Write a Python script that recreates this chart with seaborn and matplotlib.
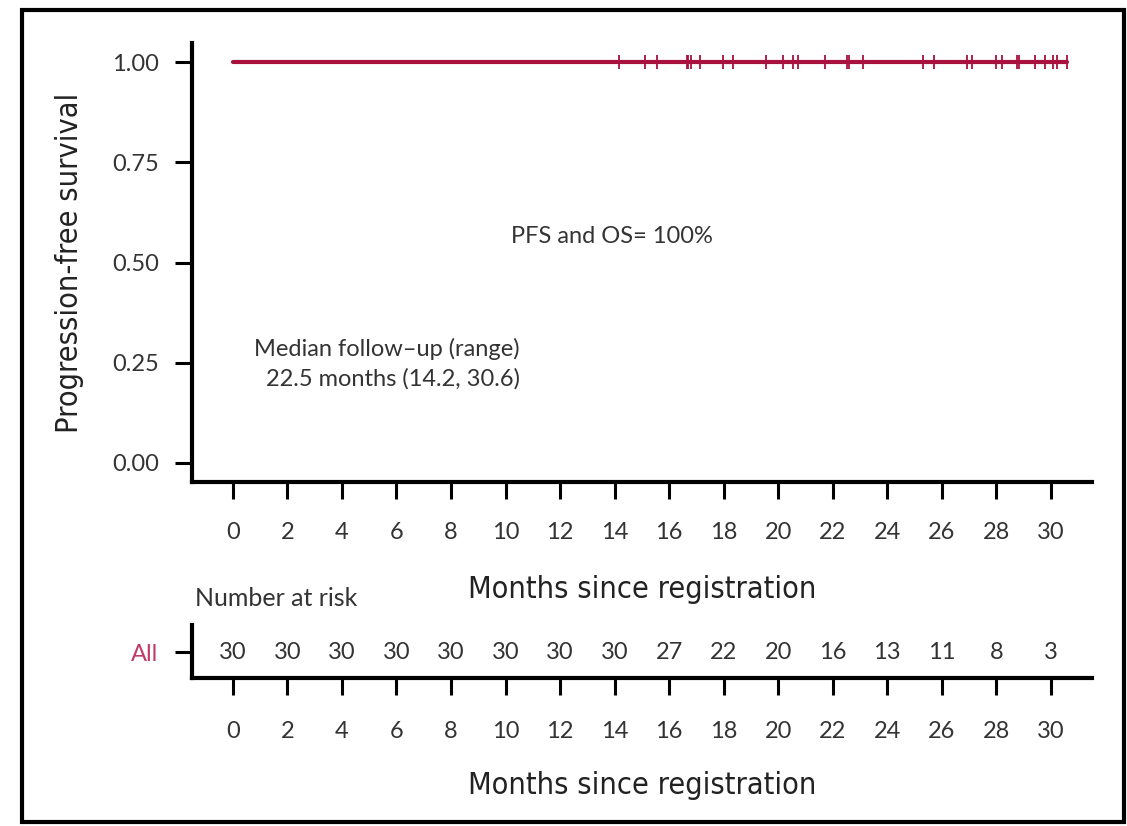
import matplotlib
matplotlib.use("Agg")
import matplotlib.pyplot as plt
from matplotlib.patches import Rectangle
import seaborn as sns
import pandas as pd

# ---- data ----
curve_time = [0.0, 30.6]
curve_surv = [1.0, 1.0]
censor_times = [14.17, 15.13, 15.56, 16.64, 16.70, 16.80, 17.13, 17.96, 18.33, 19.54,
                20.16, 20.55, 20.73, 21.70, 22.53, 22.58, 23.10, 25.30, 25.71, 26.91,
                27.10, 27.98, 28.20, 28.75, 28.82, 29.42, 29.79, 30.09, 30.24, 30.58]
risk_times = [0, 2, 4, 6, 8, 10, 12, 14, 16, 18, 20, 22, 24, 26, 28, 30]
risk_counts = [30, 30, 30, 30, 30, 30, 30, 30, 27, 22, 20, 16, 13, 11, 8, 3]
y_ticks = [0.0, 0.25, 0.5, 0.75, 1.0]
y_ticklabels = ["0.00", "0.25", "0.50", "0.75", "1.00"]
group_label = "All"

sns.set_style("ticks")
plt.rcParams['font.family'] = ['Lato', 'DejaVu Sans']
COND = dict(family='DejaVu Sans', fontstretch='condensed')
TXT = '#333333'
LINE = '#A8113E'
ALL_C = '#C23A66'
FS = 17
LFS = 22

W, H = 1127, 826
fig = plt.figure(figsize=(W / 100, H / 100), dpi=100)

# outer frame
fig.patches.append(Rectangle((22 / W, 1 - 822 / H), (1124 - 22) / W, (822 - 10) / H,
                             transform=fig.transFigure, fill=False, lw=3.0,
                             edgecolor='black', zorder=10))

left = 192 / W
width = (1091.7 - 192) / W
ax = fig.add_axes([left, 1 - 482 / H, width, (482 - 43) / H])
ax2 = fig.add_axes([left, 1 - 678 / H, width, (678 - 625) / H])

df_curve = pd.DataFrame({'time': curve_time, 'surv': curve_surv})
sns.lineplot(data=df_curve, x='time', y='surv', ax=ax, color=LINE, lw=3.0,
             drawstyle='steps-post', legend=False)
df_cens = pd.DataFrame({'time': censor_times, 'surv': [1.0] * len(censor_times)})
sns.scatterplot(data=df_cens, x='time', y='surv', ax=ax, marker='|', s=110,
                color=LINE, linewidth=1.3, legend=False, zorder=5)

for a in (ax, ax2):
    a.set_xlim(-1.5, 31.5)
    a.set_xticks(risk_times)
    a.set_xticklabels([str(t) for t in risk_times])
    for s in ('top', 'right'):
        a.spines[s].set_visible(False)
    for s in ('left', 'bottom'):
        a.spines[s].set_linewidth(3.0)
        a.spines[s].set_color('black')
    a.tick_params(axis='both', length=12, width=2.2, color='black',
                  labelsize=FS, labelcolor=TXT)
    a.tick_params(axis='y', pad=12)
    a.set_facecolor('none')
ax.tick_params(axis='x', pad=17)
ax2.tick_params(axis='x', pad=19)

ax.set_ylim(-0.0475, 1.0475)
ax.set_yticks(y_ticks)
ax.set_yticklabels(y_ticklabels)
ax.set_xlabel('Months since registration', fontsize=LFS, color='#222222',
              labelpad=23, **COND)
ax.set_ylabel('Progression-free survival', fontsize=LFS, color='#222222',
              labelpad=20, **COND)

ax.text(13.9, 0.565, 'PFS and OS= 100%', ha='center', va='center', fontsize=FS,
        color=TXT)
ax.text(10.52, 0.285, 'Median follow\u2013up (range)', ha='right', va='center',
        fontsize=FS, color=TXT)
ax.text(10.52, 0.21, '22.5 months (14.2, 30.6)', ha='right', va='center',
        fontsize=FS, color=TXT)

ax2.set_ylim(0, 1)
ax2.set_yticks([0.49])
ax2.set_yticklabels([group_label])
for lab in ax2.get_yticklabels():
    lab.set_color(ALL_C)
for t, n in zip(risk_times, risk_counts):
    ax2.text(t, 0.49, str(n), ha='center', va='center', fontsize=FS, color=TXT)
ax2.set_xlabel('Months since registration', fontsize=LFS, color='#222222',
               labelpad=21, **COND)
fig.text(195 / W, 1 - 598 / H, 'Number at risk', ha='left', va='center',
         fontsize=FS + 1, color=TXT)

fig.savefig('out.png', dpi=100)
